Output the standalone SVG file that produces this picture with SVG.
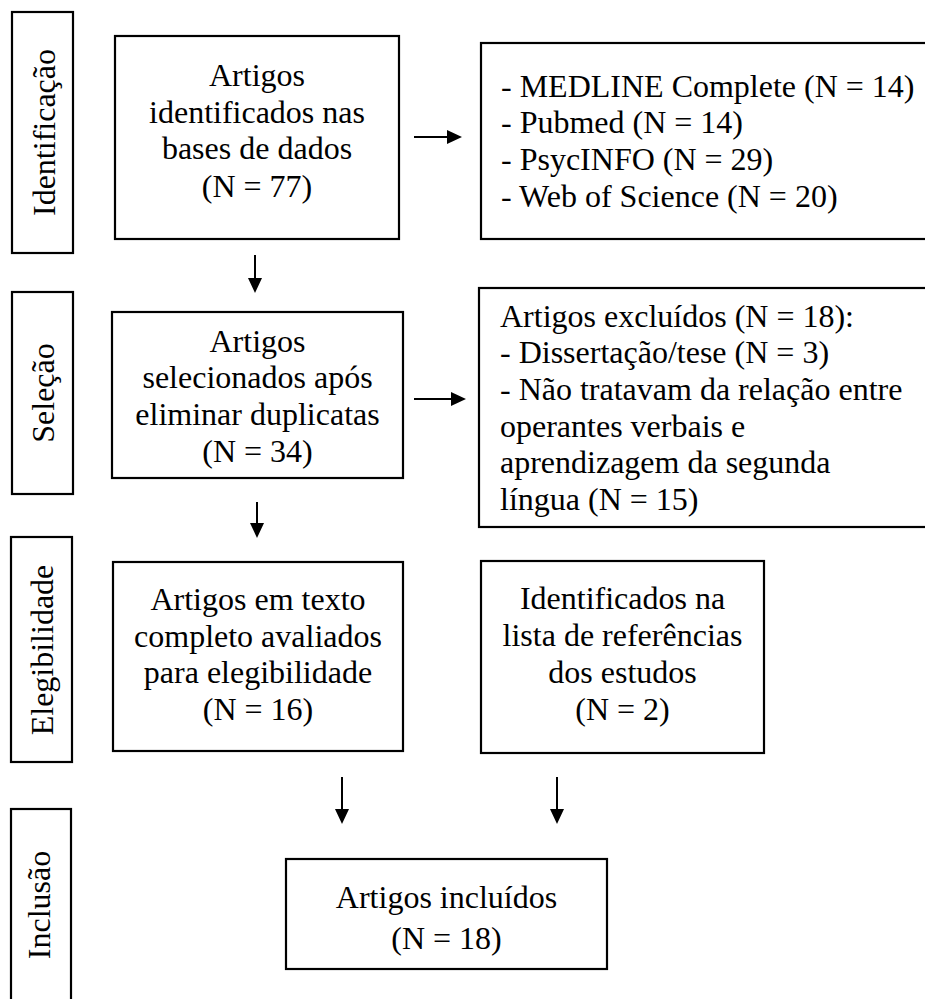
<svg xmlns="http://www.w3.org/2000/svg" width="925" height="999" viewBox="0 0 925 999">
<style>
.box{fill:#fff;stroke:#000;stroke-width:2.2}
.t{font-family:"Liberation Serif","Times New Roman",serif;font-size:32px;fill:#000}
.c{text-anchor:middle}
.conn{stroke:#000;stroke-width:2;fill:none}
</style>
<defs>
<marker id="ah" markerUnits="userSpaceOnUse" markerWidth="15" markerHeight="14" refX="0" refY="7" orient="auto">
<path d="M0,0 L15,7 L0,14 z" fill="#000"/>
</marker>
</defs>
<rect width="925" height="999" fill="#fff"/>
<g id="stage-identificacao">
<rect class="box" x="12" y="12" width="61" height="241"/>
<text class="t c" transform="translate(55,132.5) rotate(-90)">Identificação</text>
</g>
<g id="stage-selecao">
<rect class="box" x="12" y="292" width="61" height="202"/>
<text class="t c" transform="translate(54,393) rotate(-90)">Seleção</text>
</g>
<g id="stage-elegibilidade">
<rect class="box" x="11" y="537" width="61" height="225"/>
<text class="t c" transform="translate(53,650) rotate(-90)">Elegibilidade</text>
</g>
<g id="stage-inclusao">
<rect class="box" x="11" y="809" width="60" height="210"/>
<text class="t c" transform="translate(50,905) rotate(-90)">Inclusão</text>
</g>
<g id="n-identificados">
<rect class="box" x="115" y="36" width="284" height="203"/>
<text class="t c" x="257" y="86">Artigos</text>
<text class="t c" x="257" y="123">identificados nas</text>
<text class="t c" x="257" y="159">bases de dados</text>
<text class="t c" x="257" y="197">(N = 77)</text>
</g>
<g id="n-bases">
<rect class="box" x="481" y="43" width="470" height="196"/>
<text class="t" x="501" y="97">- MEDLINE Complete (N = 14)</text>
<text class="t" x="501" y="133">- Pubmed (N = 14)</text>
<text class="t" x="501" y="170">- PsycINFO (N = 29)</text>
<text class="t" x="501" y="207">- Web of Science (N = 20)</text>
</g>
<g id="n-selecionados">
<rect class="box" x="112" y="312" width="291" height="166"/>
<text class="t c" x="257.5" y="352">Artigos</text>
<text class="t c" x="257.5" y="388">selecionados após</text>
<text class="t c" x="257.5" y="425">eliminar duplicatas</text>
<text class="t c" x="257.5" y="462">(N = 34)</text>
</g>
<g id="n-excluidos">
<rect class="box" x="479" y="288" width="470" height="239"/>
<text class="t" x="500" y="327">Artigos excluídos (N = 18):</text>
<text class="t" x="500" y="363">- Dissertação/tese (N = 3)</text>
<text class="t" x="500" y="400">- Não tratavam da relação entre</text>
<text class="t" x="500" y="437">operantes verbais e</text>
<text class="t" x="500" y="473">aprendizagem da segunda</text>
<text class="t" x="500" y="510">língua (N = 15)</text>
</g>
<g id="n-texto-completo">
<rect class="box" x="113" y="562" width="290" height="189"/>
<text class="t c" x="258" y="610">Artigos em texto</text>
<text class="t c" x="258" y="647">completo avaliados</text>
<text class="t c" x="258" y="683">para elegibilidade</text>
<text class="t c" x="258" y="720">(N = 16)</text>
</g>
<g id="n-referencias">
<rect class="box" x="481" y="561" width="283" height="192"/>
<text class="t c" x="622.5" y="609">Identificados na</text>
<text class="t c" x="622.5" y="646">lista de referências</text>
<text class="t c" x="622.5" y="683">dos estudos</text>
<text class="t c" x="622.5" y="720">(N = 2)</text>
</g>
<g id="n-incluidos">
<rect class="box" x="286" y="859" width="321" height="110"/>
<text class="t c" x="446.5" y="908">Artigos incluídos</text>
<text class="t c" x="446.5" y="949">(N = 18)</text>
</g>
<g id="connectors">
<line class="conn" x1="414" y1="137" x2="447" y2="137" marker-end="url(#ah)"/>
<line class="conn" x1="414" y1="399" x2="451" y2="399" marker-end="url(#ah)"/>
<line class="conn" x1="255" y1="255" x2="255" y2="278" marker-end="url(#ah)"/>
<line class="conn" x1="257" y1="502" x2="257" y2="523" marker-end="url(#ah)"/>
<line class="conn" x1="342" y1="777" x2="342" y2="809" marker-end="url(#ah)"/>
<line class="conn" x1="557" y1="777" x2="557" y2="809" marker-end="url(#ah)"/>
</g>
</svg>
